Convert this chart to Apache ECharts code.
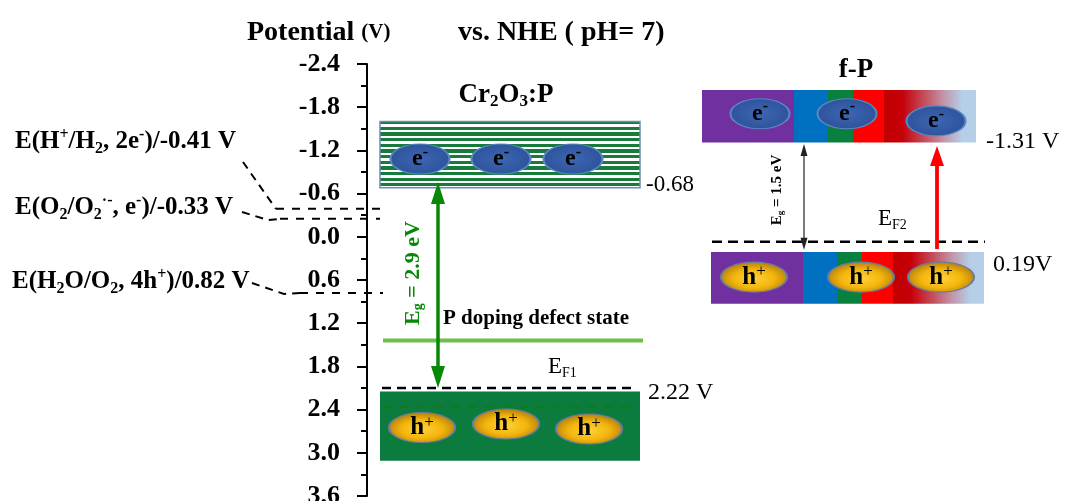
<!DOCTYPE html>
<html><head><meta charset="utf-8">
<script src="https://cdn.jsdelivr.net/npm/echarts@6/dist/echarts.min.js"></script>
<style>html,body{margin:0;padding:0;background:#fff}#c{width:1067px;height:501px}</style>
</head><body><div id="c"></div>
<script>
// ---------------- data (potential in V vs. NHE) ----------------
const potentialMin = -2.4, potentialMax = 3.6, potentialStep = 0.6;

// redox reference levels, as drawn
const redoxLevels = [-0.39, -0.25, 0.78];

// Cr2O3:P
const cr2o3CB = [-1.60, -0.68];
const cr2o3VB = [2.15, 3.11];
const cr2o3EF1 = 2.10;
const cr2o3VBInner = 2.36;
const cr2o3Defect = 1.44;
const cr2o3Electrons = [-1.08, -1.08, -1.08];
const cr2o3Holes = [2.65, 2.60, 2.67];
const cr2o3GapArrow = [-0.76, 2.10];

// f-P
const fpCB = [-2.04, -1.31];
const fpVB = [0.21, 0.93];
const fpEF2 = 0.07;
const fpElectrons = [-1.71, -1.71, -1.61];
const fpHoles = [0.56, 0.56, 0.56];
const fpGapArrow = [-1.29, 0.18];
const fpExciteArrow = [0.17, -1.26];

// texts
const valueLabels = ['-0.68', '2.22 V', '-1.31 V', '0.19V'];

// ---------------- layout (horizontal placement, px) ----------------
const FONT = 'Liberation Serif';
const L = {
  crX: [380, 640], crEFX: [382, 632], crInnerX: [383, 630], crDefX: [383, 643],
  crElecX: [420, 501, 573], crHoleX: [422, 506, 589], crArrowX: 438,
  fpCBSegX: [702, 794, 828, 853, 884, 976],
  fpVBSegX: [711, 803, 837, 862, 893, 984],
  fpEFX: [712, 985], fpElecX: [760, 847, 936], fpHoleX: [754, 861, 941],
  fpGapX: 804, fpExciteX: 937,
  redoxX: [[276, 380], [280, 380], [300, 383]]
};

// ---------------- fills ----------------
const stripeStops = [];
const NS = 12;
for (let i = 0; i < NS; i++) {
  const a = i / NS, b = (i + 0.62) / NS, c = (i + 1) / NS;
  stripeStops.push({offset: a, color: '#ffffff'}, {offset: a + 0.06 / NS, color: '#ffffff'},
    {offset: a + 0.06 / NS, color: '#167b3b'}, {offset: b, color: '#167b3b'},
    {offset: b, color: '#ffffff'}, {offset: c, color: '#ffffff'});
}
const fadeStops = [
  {offset: 0, color: '#c00000'}, {offset: 0.2, color: '#c6000a'},
  {offset: 0.45, color: '#c45260'}, {offset: 0.65, color: '#c196aa'},
  {offset: 0.85, color: '#b5cfe9'}, {offset: 1, color: '#b5cfe9'}
];
const fills = [
  {fill: new echarts.graphic.LinearGradient(0, 0, 0, 1, stripeStops), stroke: '#6d8db5', lw: 1.5},
  {fill: '#0b7c3d'},
  {fill: '#7030a0'}, {fill: '#0070c0'}, {fill: '#0a803e'}, {fill: '#ff0000'},
  {fill: new echarts.graphic.LinearGradient(0, 0, 1, 0, fadeStops)}
];

const bandData = [
  [L.crX[0], L.crX[1], cr2o3CB[0], cr2o3CB[1], 0],
  [L.crX[0], L.crX[1], cr2o3VB[0], cr2o3VB[1], 1]
];
for (let i = 0; i < 5; i++) {
  bandData.push([L.fpCBSegX[i], L.fpCBSegX[i + 1], fpCB[0], fpCB[1], 2 + i]);
  bandData.push([L.fpVBSegX[i], L.fpVBSegX[i + 1], fpVB[0], fpVB[1], 2 + i]);
}

function renderBand(params, api) {
  const p0 = api.coord([api.value(0), api.value(2)]);
  const p1 = api.coord([api.value(1), api.value(3)]);
  const f = fills[api.value(4)];
  return {type: 'rect', shape: {x: p0[0], y: p0[1], width: p1[0] - p0[0], height: p1[1] - p0[1]},
    style: {fill: f.fill, stroke: f.stroke || null, lineWidth: f.lw || 0}};
}

// arrows
const arrowStyles = [
  {color: '#078807', lw: 3.5, headW: 14, headL: 22, both: true},
  {color: '#222222', lw: 1.2, headW: 7, headL: 12, both: true},
  {color: '#ff0000', lw: 3.8, headW: 14, headL: 20, both: false}
];
const arrowData = [
  [L.crArrowX, cr2o3GapArrow[1], cr2o3GapArrow[0], 0],
  [L.fpGapX, fpGapArrow[1], fpGapArrow[0], 1],
  [L.fpExciteX, fpExciteArrow[0], fpExciteArrow[1], 2]
];
function tri(x, y, d, st) {
  return {type: 'polygon', shape: {points: [[x, y], [x - st.headW / 2, y - d * st.headL], [x + st.headW / 2, y - d * st.headL]]},
    style: {fill: st.color}};
}
function renderArrow(params, api) {
  const st = arrowStyles[api.value(3)];
  const x = api.value(0);
  const p0 = api.coord([x, api.value(1)]);
  const p1 = api.coord([x, api.value(2)]);
  const dir = Math.sign(p1[1] - p0[1]);
  const ch = [];
  let ys = p0[1];
  if (st.both) { ch.push(tri(p0[0], p0[1], -dir, st)); ys = p0[1] + dir * st.headL * 0.8; }
  ch.push(tri(p1[0], p1[1], dir, st));
  const ye = p1[1] - dir * st.headL * 0.8;
  ch.unshift({type: 'line', shape: {x1: p0[0], y1: ys, x2: p1[0], y2: ye}, style: {stroke: st.color, lineWidth: st.lw}});
  return {type: 'group', children: ch};
}

function hLine(xs, y, color, width, dash, z) {
  return {type: 'line', data: [[xs[0], y], [xs[1], y]], symbol: 'none', silent: true, z: z || 3,
    lineStyle: {color: color, width: width, type: dash || 'solid'}};
}

const elecFill = {type: 'radial', x: 0.5, y: 0.5, r: 0.55, colorStops: [
  {offset: 0, color: '#3d66b3'}, {offset: 1, color: '#2c5198'}]};
const holeFill = {type: 'radial', x: 0.5, y: 0.55, r: 0.55, colorStops: [
  {offset: 0, color: '#ffd23a'}, {offset: 0.55, color: '#f3b50c'}, {offset: 1, color: '#b07c0c'}]};

function richSet(size, weight, color) {
  const s = Math.round(size * 0.63);
  return {
    m: {fontSize: size, fontWeight: weight, fontFamily: FONT, fill: color, color: color},
    sb: {fontSize: s, fontWeight: weight, fontFamily: FONT, fill: color, color: color, padding: [Math.round(size * 0.5), 0, 0, 0]},
    sp: {fontSize: s, fontWeight: weight, fontFamily: FONT, fill: color, color: color, padding: [0, 0, Math.round(size * 0.55), 0]}
  };
}
function txt(x, y, text, size, weight, color, align, rot) {
  return {type: 'text', x: x, y: y, rotation: rot || 0, z: 100, silent: true,
    style: {text: text, rich: richSet(size, weight, color || '#000'), fontSize: size, fontWeight: weight,
      fontFamily: FONT, fill: color || '#000', align: align || 'left', verticalAlign: 'middle'}};
}
function dashPath(points) {
  return {type: 'polyline', z: 50, silent: true, shape: {points: points},
    style: {stroke: '#000', lineWidth: 2, lineDash: [8, 6], fill: null}};
}

const elecLabel = {show: true, position: 'inside', formatter: '{b|e}{s|-}',
  rich: {b: {fontSize: 24, fontWeight: 'bold', fontFamily: FONT, color: '#000'},
         s: {fontSize: 16, fontWeight: 'bold', fontFamily: FONT, color: '#000', padding: [0, 0, 13, 0]}}};
const holeLabel = {show: true, position: 'inside', formatter: '{b|h}{s|+}',
  rich: {b: {fontSize: 25, fontWeight: 'bold', fontFamily: FONT, color: '#000'},
         s: {fontSize: 17, fontWeight: 'normal', fontFamily: FONT, color: '#000', padding: [0, 0, 11, 0]}}};

const option = {
  animation: false,
  grid: {left: 0, right: 0, top: 64, bottom: 5, containLabel: false, outerBoundsMode: 'none'},
  xAxis: {type: 'value', min: 0, max: 1067, show: false},
  yAxis: {
    type: 'value', inverse: true, min: potentialMin, max: potentialMax, interval: potentialStep,
    position: 'left', offset: -367,
    axisLine: {show: true, onZero: false, lineStyle: {color: '#000', width: 2}},
    axisTick: {show: true, length: 10, lineStyle: {color: '#000', width: 2}},
    minorTick: {show: true, splitNumber: 2, length: 6, lineStyle: {color: '#000', width: 2}},
    splitLine: {show: false},
    axisLabel: {color: '#000', fontFamily: FONT, fontWeight: 'bold', fontSize: 26, margin: 27,
      formatter: v => v.toFixed(1)}
  },
  series: [
    {type: 'custom', renderItem: renderBand, data: bandData, silent: true, z: 1,
      encode: {x: [0, 1], y: [2, 3]}},
    hLine(L.redoxX[0], redoxLevels[0], '#000', 2, [8, 8]),
    hLine(L.redoxX[1], redoxLevels[1], '#000', 2, [8, 8]),
    hLine(L.redoxX[2], redoxLevels[2], '#000', 2, [8, 8]),
    hLine(L.crEFX, cr2o3EF1, '#000', 2.5, [9, 6]),
    hLine(L.crInnerX, cr2o3VBInner, '#127a1a', 2.5, [9, 8]),
    hLine(L.crDefX, cr2o3Defect, '#6cc04a', 4),
    hLine(L.fpEFX, fpEF2, '#000', 2.5, [10, 6]),
    {type: 'scatter', silent: true, z: 5, symbol: 'circle', symbolSize: [59, 30],
      data: L.crElecX.map((x, i) => [x, cr2o3Electrons[i]]).concat(L.fpElecX.map((x, i) => [x, fpElectrons[i]])),
      itemStyle: {color: elecFill, borderColor: '#5a86c4', borderWidth: 1.5, opacity: 1},
      label: elecLabel},
    {type: 'scatter', silent: true, z: 5, symbol: 'circle', symbolSize: [66, 30],
      data: L.crHoleX.map((x, i) => [x, cr2o3Holes[i]]).concat(L.fpHoleX.map((x, i) => [x, fpHoles[i]])),
      itemStyle: {color: holeFill, borderColor: '#6b7c9c', borderWidth: 1.5, opacity: 1},
      label: holeLabel},
    {type: 'custom', renderItem: renderArrow, data: arrowData, silent: true, z: 8,
      encode: {x: 0, y: [1, 2]}}
  ],
  graphic: [
    txt(247, 33, '{a|Potential} {b|(V)}', 28, 'bold'),
    txt(458, 33, 'vs. NHE ( pH= 7)', 28, 'bold'),
    txt(15, 142, '{m|E(H}{sp|+}{m|/H}{sb|2}{m|, 2e}{sp|-}{m|)/-0.41 V}', 25, 'bold'),
    txt(15, 208, '{m|E(O}{sb|2}{m|/O}{sb|2}{sp|·-}{m|, e}{sp|-}{m|)/-0.33 V}', 25, 'bold'),
    txt(12, 282, '{m|E(H}{sb|2}{m|O/O}{sb|2}{m|, 4h}{sp|+}{m|)/0.82 V}', 25, 'bold'),
    dashPath([[243, 162], [276, 209]]),
    dashPath([[242, 212], [268, 220], [280, 219]]),
    dashPath([[252, 283], [284, 294], [300, 293]]),
    txt(506, 95, '{m|Cr}{sb|2}{m|O}{sb|3}{m|:P}', 27, 'bold', '#000', 'center'),
    txt(856, 70, 'f-P', 27, 'bold', '#000', 'center'),
    txt(646, 185, valueLabels[0], 23, 'normal'),
    txt(648, 393, valueLabels[1], 24, 'normal'),
    txt(986, 142, valueLabels[2], 24, 'normal'),
    txt(993, 265, valueLabels[3], 24, 'normal'),
    txt(548, 367, '{m|E}{sb|F1}', 23, 'normal'),
    txt(878, 219, '{m|E}{sb|F2}', 23, 'normal'),
    txt(443, 319, 'P doping defect state', 21, 'bold'),
    txt(413, 273, '{m|E}{sb|g}{m| = 2.9 eV}', 22, 'bold', '#078807', 'center', Math.PI / 2),
    txt(777, 190, '{m|E}{sb|g}{m| = 1.5 eV}', 15, 'bold', '#000', 'center', Math.PI / 2)
  ]
};
option.graphic[0].style.rich.a = {fontSize: 28, fontWeight: 'bold', fontFamily: FONT, fill: '#000'};
option.graphic[0].style.rich.b = {fontSize: 21, fontWeight: 'bold', fontFamily: FONT, fill: '#000'};

const chart = echarts.init(document.getElementById('c'), null, {renderer: 'canvas'});
chart.setOption(option);
</script></body></html>
